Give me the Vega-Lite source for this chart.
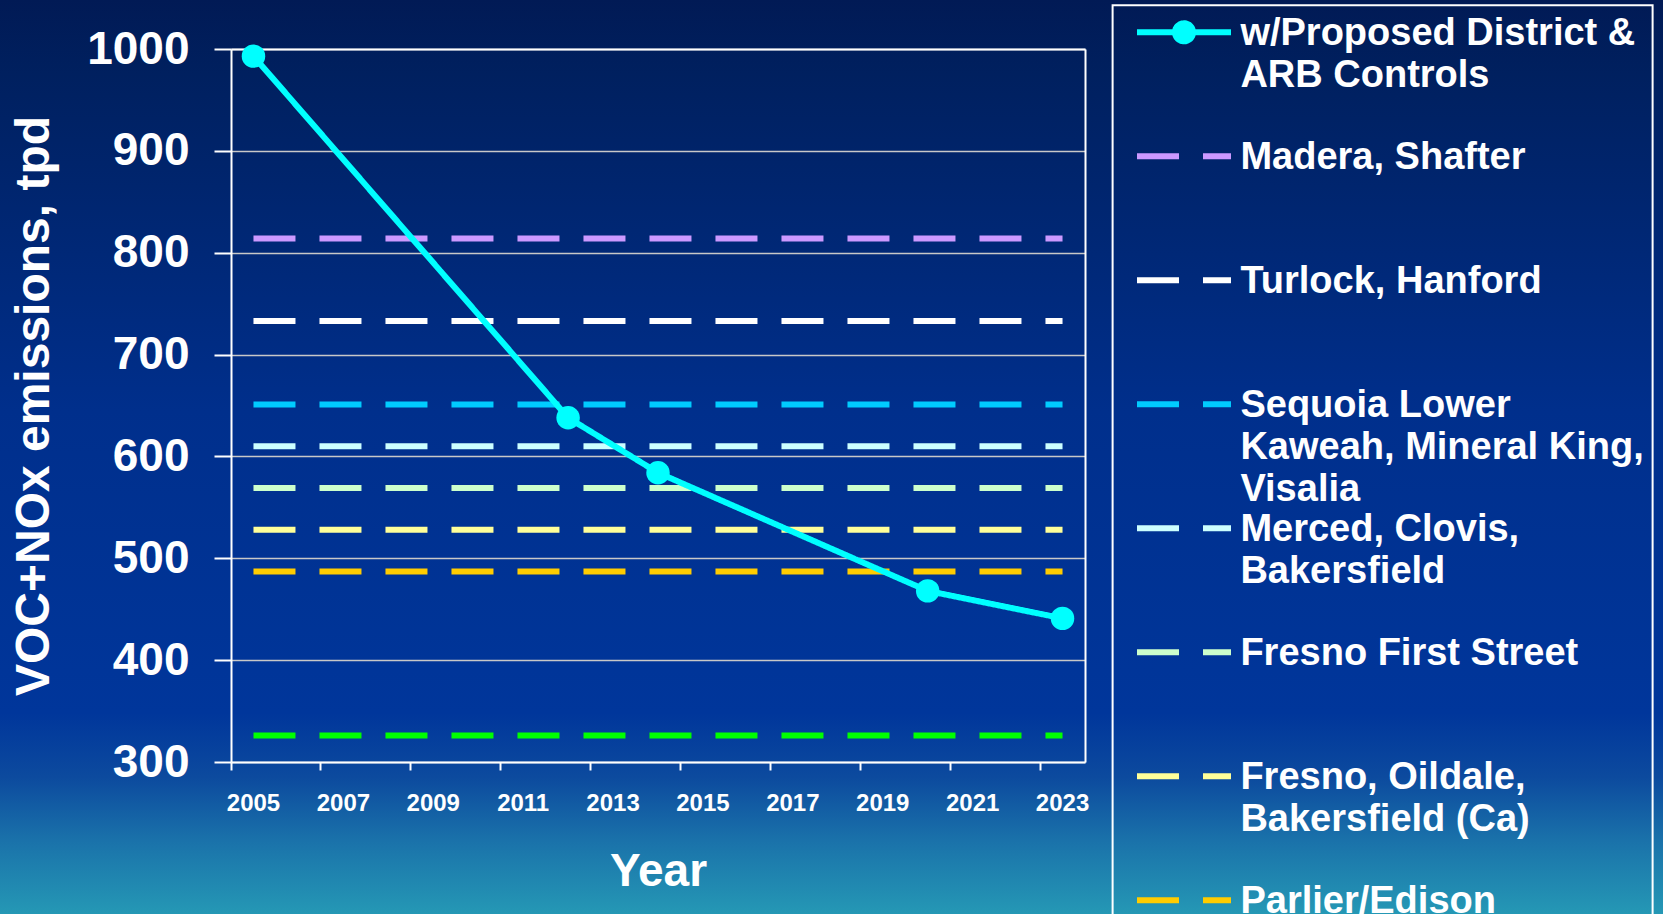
{
  "$schema": "https://vega.github.io/schema/vega-lite/v6.json",
  "width": 1663,
  "height": 914,
  "autosize": {"type": "none"},
  "padding": 0,
  "background": "#011A55",
  "view": {
    "stroke": null,
    "fill": {
      "gradient": "linear",
      "x1": 0, "y1": 0, "x2": 0, "y2": 1,
      "stops": [
        {"offset": 0, "color": "#011A55"},
        {"offset": 0.08, "color": "#00205F"},
        {"offset": 0.45, "color": "#002F8C"},
        {"offset": 0.78, "color": "#00369B"},
        {"offset": 0.85, "color": "#0C4A9E"},
        {"offset": 0.92, "color": "#1A72AA"},
        {"offset": 1, "color": "#2598B5"}
      ]
    }
  },
  "config": {
    "style": {"guide-label": {"lineHeight": 42, "dy": -17}},
    "legend": {"strokeWidth": 2}
  },
  "data": {
    "values": [
      {"series": "w/Proposed District & ARB Controls", "year": 2005, "value": 993},
      {"series": "w/Proposed District & ARB Controls", "year": 2012, "value": 638},
      {"series": "w/Proposed District & ARB Controls", "year": 2014, "value": 584},
      {"series": "w/Proposed District & ARB Controls", "year": 2020, "value": 468},
      {"series": "w/Proposed District & ARB Controls", "year": 2023, "value": 441},
      {"series": "Madera, Shafter", "year": 2005, "value": 814},
      {"series": "Madera, Shafter", "year": 2012, "value": 814},
      {"series": "Madera, Shafter", "year": 2014, "value": 814},
      {"series": "Madera, Shafter", "year": 2020, "value": 814},
      {"series": "Madera, Shafter", "year": 2023, "value": 814},
      {"series": "Turlock, Hanford", "year": 2005, "value": 733},
      {"series": "Turlock, Hanford", "year": 2012, "value": 733},
      {"series": "Turlock, Hanford", "year": 2014, "value": 733},
      {"series": "Turlock, Hanford", "year": 2020, "value": 733},
      {"series": "Turlock, Hanford", "year": 2023, "value": 733},
      {"series": "Sequoia Lower Kaweah, Mineral King, Visalia", "year": 2005, "value": 651},
      {"series": "Sequoia Lower Kaweah, Mineral King, Visalia", "year": 2012, "value": 651},
      {"series": "Sequoia Lower Kaweah, Mineral King, Visalia", "year": 2014, "value": 651},
      {"series": "Sequoia Lower Kaweah, Mineral King, Visalia", "year": 2020, "value": 651},
      {"series": "Sequoia Lower Kaweah, Mineral King, Visalia", "year": 2023, "value": 651},
      {"series": "Merced, Clovis, Bakersfield", "year": 2005, "value": 610},
      {"series": "Merced, Clovis, Bakersfield", "year": 2012, "value": 610},
      {"series": "Merced, Clovis, Bakersfield", "year": 2014, "value": 610},
      {"series": "Merced, Clovis, Bakersfield", "year": 2020, "value": 610},
      {"series": "Merced, Clovis, Bakersfield", "year": 2023, "value": 610},
      {"series": "Fresno First Street", "year": 2005, "value": 569},
      {"series": "Fresno First Street", "year": 2012, "value": 569},
      {"series": "Fresno First Street", "year": 2014, "value": 569},
      {"series": "Fresno First Street", "year": 2020, "value": 569},
      {"series": "Fresno First Street", "year": 2023, "value": 569},
      {"series": "Fresno, Oildale, Bakersfield (Ca)", "year": 2005, "value": 528},
      {"series": "Fresno, Oildale, Bakersfield (Ca)", "year": 2012, "value": 528},
      {"series": "Fresno, Oildale, Bakersfield (Ca)", "year": 2014, "value": 528},
      {"series": "Fresno, Oildale, Bakersfield (Ca)", "year": 2020, "value": 528},
      {"series": "Fresno, Oildale, Bakersfield (Ca)", "year": 2023, "value": 528},
      {"series": "Parlier/Edison", "year": 2005, "value": 487},
      {"series": "Parlier/Edison", "year": 2012, "value": 487},
      {"series": "Parlier/Edison", "year": 2014, "value": 487},
      {"series": "Parlier/Edison", "year": 2020, "value": 487},
      {"series": "Parlier/Edison", "year": 2023, "value": 487},
      {"series": "Arvin", "year": 2005, "value": 326},
      {"series": "Arvin", "year": 2012, "value": 326},
      {"series": "Arvin", "year": 2014, "value": 326},
      {"series": "Arvin", "year": 2020, "value": 326},
      {"series": "Arvin", "year": 2023, "value": 326}
    ]
  },
  "resolve": {"axis": {"x": "independent", "y": "independent"}},
  "layer": [
    {
      "transform": [{"filter": "datum.series !== 'w/Proposed District & ARB Controls'"}],
      "mark": {"type": "line", "strokeWidth": 6, "strokeCap": "butt"},
      "encoding": {
        "x": {
          "field": "year", "type": "ordinal",
          "scale": {
            "type": "band",
            "domain": [2005, 2006, 2007, 2008, 2009, 2010, 2011, 2012, 2013, 2014, 2015, 2016, 2017, 2018, 2019, 2020, 2021, 2022, 2023],
            "range": [231, 1085],
            "paddingInner": 0, "paddingOuter": 0
          },
          "axis": {
            "orient": "bottom", "offset": -152,
            "values": [2005, 2007, 2009, 2011, 2013, 2015, 2017, 2019, 2021, 2023],
            "bandPosition": 0,
            "title": "Year",
            "titleFont": "Liberation Sans", "titleFontSize": 46, "titleFontWeight": "bold", "titleColor": "#FFFFFF", "titlePadding": 34,
            "labelFont": "Liberation Sans", "labelFontSize": 24, "labelFontWeight": "bold", "labelColor": "#FFFFFF",
            "labelAngle": 0, "labelPadding": 38.5,
            "tickSize": 8, "tickColor": "#FFFFFF", "tickWidth": 2,
            "domainColor": "#FFFFFF", "domainWidth": 2,
            "grid": false
          }
        },
        "y": {
          "field": "value", "type": "quantitative",
          "scale": {"domain": [300, 1000], "range": [762, 49], "nice": false, "zero": false},
          "axis": {
            "orient": "left", "offset": -231,
            "values": [300, 400, 500, 600, 700, 800, 900, 1000],
            "format": "d",
            "title": "VOC+NOx emissions, tpd",
            "titleFont": "Liberation Sans", "titleFontSize": 48, "titleFontWeight": "bold", "titleColor": "#FFFFFF", "titlePadding": 27.7,
            "labelFont": "Liberation Sans", "labelFontSize": 46, "labelFontWeight": "bold", "labelColor": "#FFFFFF",
            "labelPadding": 25, "labelOffset": 17,
            "tickSize": 17, "tickColor": "#FFFFFF", "tickWidth": 2,
            "domainColor": "#FFFFFF", "domainWidth": 2,
            "grid": true, "gridColor": "#C8C8C8", "gridWidth": 1.5
          }
        },
        "color": {
          "field": "series", "type": "nominal",
          "scale": {
            "domain": [
              "w/Proposed District & ARB Controls",
              "Madera, Shafter",
              "Turlock, Hanford",
              "Sequoia Lower Kaweah, Mineral King, Visalia",
              "Merced, Clovis, Bakersfield",
              "Fresno First Street",
              "Fresno, Oildale, Bakersfield (Ca)",
              "Parlier/Edison",
              "Arvin"
            ],
            "range": ["#00FFFF", "#CC99FF", "#FFFFFF", "#00CCFF", "#CCFFFF", "#CCFFCC", "#FFFF99", "#FFCC00", "#00FF00"]
          },
          "legend": {
            "title": null,
            "orient": "none", "legendX": 1112.6, "legendY": 5.3,
            "direction": "vertical", "columns": 1,
            "padding": 8,
            "strokeColor": "#FFFFFF",
            "symbolSize": 552.25, "symbolStrokeWidth": 6, "symbolOpacity": 1,
            "symbolOffset": 44.4, "labelOffset": 37.4,
            "labelFont": "Liberation Sans", "labelFontSize": 38, "labelFontWeight": "bold", "labelColor": "#FFFFFF",
            "labelBaseline": "top", "labelAlign": "left", "labelLimit": 1000,
            "rowPadding": 0,
            "labelExpr": "{'w/Proposed District & ARB Controls': ['w/Proposed District &', 'ARB Controls', ''], 'Madera, Shafter': ['Madera, Shafter', '', ''], 'Turlock, Hanford': ['Turlock, Hanford', '', ''], 'Sequoia Lower Kaweah, Mineral King, Visalia': ['Sequoia Lower', 'Kaweah, Mineral King,  ', 'Visalia'], 'Merced, Clovis, Bakersfield': ['Merced, Clovis,', 'Bakersfield', ''], 'Fresno First Street': ['Fresno First Street', '', ''], 'Fresno, Oildale, Bakersfield (Ca)': ['Fresno, Oildale,', 'Bakersfield (Ca)', ''], 'Parlier/Edison': ['Parlier/Edison', '', ''], 'Arvin': ['Arvin', '', '']}[datum.value]"
          }
        },
        "strokeDash": {
          "field": "series", "type": "nominal",
          "scale": {
            "domain": [
              "w/Proposed District & ARB Controls",
              "Madera, Shafter",
              "Turlock, Hanford",
              "Sequoia Lower Kaweah, Mineral King, Visalia",
              "Merced, Clovis, Bakersfield",
              "Fresno First Street",
              "Fresno, Oildale, Bakersfield (Ca)",
              "Parlier/Edison",
              "Arvin"
            ],
            "range": [[1, 0], [42, 24], [42, 24], [42, 24], [42, 24], [42, 24], [42, 24], [42, 24], [42, 24]]
          }
        }
      }
    },
    {
      "transform": [{"filter": "datum.series === 'w/Proposed District & ARB Controls'"}],
      "mark": {"type": "line", "strokeWidth": 6},
      "encoding": {
        "x": {"field": "year", "type": "ordinal", "axis": null},
        "y": {"field": "value", "type": "quantitative", "axis": null},
        "color": {"field": "series", "type": "nominal"},
        "strokeDash": {"field": "series", "type": "nominal"}
      }
    },
    {
      "transform": [{"filter": "datum.series === 'w/Proposed District & ARB Controls'"}],
      "mark": {"type": "point", "filled": true, "size": 551, "opacity": 1, "color": "#00FFFF", "strokeWidth": 0},
      "encoding": {
        "x": {
          "field": "year", "type": "ordinal",
          "axis": {"orient": "top", "offset": -49, "labels": false, "ticks": false, "title": null, "grid": false, "domainColor": "#FFFFFF", "domainWidth": 2}
        },
        "y": {
          "field": "value", "type": "quantitative",
          "axis": {"orient": "right", "offset": -578, "labels": false, "ticks": false, "title": null, "grid": false, "domainColor": "#FFFFFF", "domainWidth": 2}
        }
      }
    },
    {
      "transform": [{"filter": "false"}],
      "mark": {"type": "point", "filled": true, "opacity": 1},
      "encoding": {
        "color": {"field": "series", "type": "nominal"},
        "shape": {
          "field": "series", "type": "nominal",
          "scale": {
            "domain": [
              "w/Proposed District & ARB Controls",
              "Madera, Shafter",
              "Turlock, Hanford",
              "Sequoia Lower Kaweah, Mineral King, Visalia",
              "Merced, Clovis, Bakersfield",
              "Fresno First Street",
              "Fresno, Oildale, Bakersfield (Ca)",
              "Parlier/Edison",
              "Arvin"
            ],
            "range": [
              "M-4,0H4M-0.766,0A0.766,0.766,0,1,1,0.766,0A0.766,0.766,0,1,1,-0.766,0Z",
              "M-4,0H4", "M-4,0H4", "M-4,0H4", "M-4,0H4", "M-4,0H4", "M-4,0H4", "M-4,0H4", "M-4,0H4"
            ]
          }
        }
      }
    }
  ]
}
